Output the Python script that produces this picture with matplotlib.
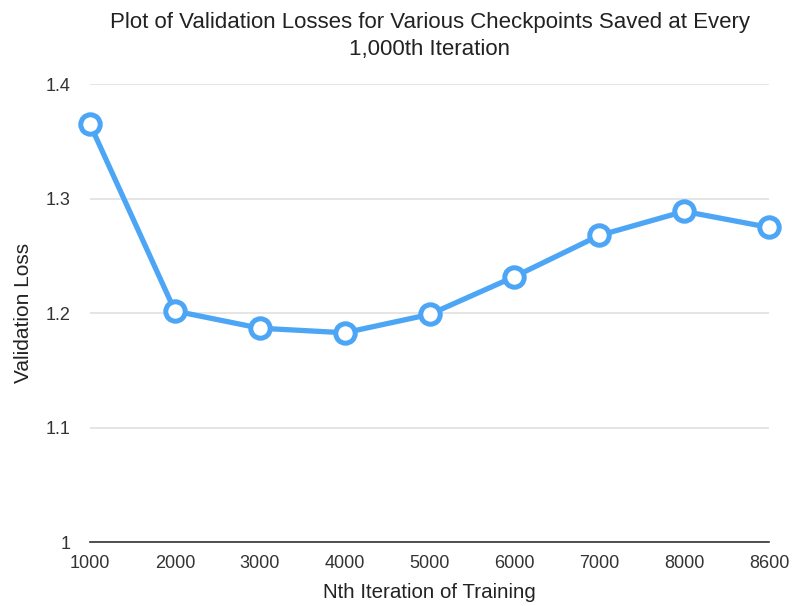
import matplotlib
matplotlib.use('Agg')
import matplotlib.pyplot as plt

plt.rcParams['font.family'] = ['Liberation Sans', 'DejaVu Sans']

# checkpoints and their validation losses
iterations = ['1000', '2000', '3000', '4000', '5000', '6000', '7000', '8000', '8600']
val_loss = [1.365, 1.202, 1.187, 1.183, 1.199, 1.232, 1.268, 1.289, 1.275]
y_ticks = [1.0, 1.1, 1.2, 1.3, 1.4]
y_tick_labels = ['1', '1.1', '1.2', '1.3', '1.4']

fig = plt.figure(figsize=(7.97, 6.06), dpi=100)
ax = fig.add_axes([0.113, 0.105, 0.852, 0.756])

x = list(range(len(iterations)))
ax.plot(x, val_loss, color='#4DA6F5', linewidth=3.8, marker='o',
        markersize=14, markerfacecolor='white', markeredgecolor='#4DA6F5',
        markeredgewidth=3.6, zorder=5, clip_on=False)

ax.set_xlim(0, len(iterations) - 1)
ax.set_ylim(1.0, 1.4)
ax.set_xticks(x)
ax.set_xticklabels(iterations, fontsize=13, color='#333333')
ax.set_yticks(y_ticks)
ax.set_yticklabels(y_tick_labels, fontsize=13, color='#333333')
ax.tick_params(axis='x', length=0, pad=9)
ax.tick_params(axis='y', length=0, pad=14)

ax.grid(axis='y', color='#e0e0e0', linewidth=1.2)
ax.set_axisbelow(True)
for side in ['top', 'right', 'left']:
    ax.spines[side].set_visible(False)
ax.spines['bottom'].set_color('#333333')
ax.spines['bottom'].set_linewidth(1.2)

ax.set_xlabel('Nth Iteration of Training', fontsize=14.8, color='#222222', labelpad=8)
ax.set_ylabel('Validation Loss', fontsize=15, color='#222222', labelpad=9)
ax.set_title('Plot of Validation Losses for Various Checkpoints Saved at Every\n1,000th Iteration',
             fontsize=16, color='#222222', pad=21, linespacing=1.35)

fig.savefig('out.png', dpi=100)
